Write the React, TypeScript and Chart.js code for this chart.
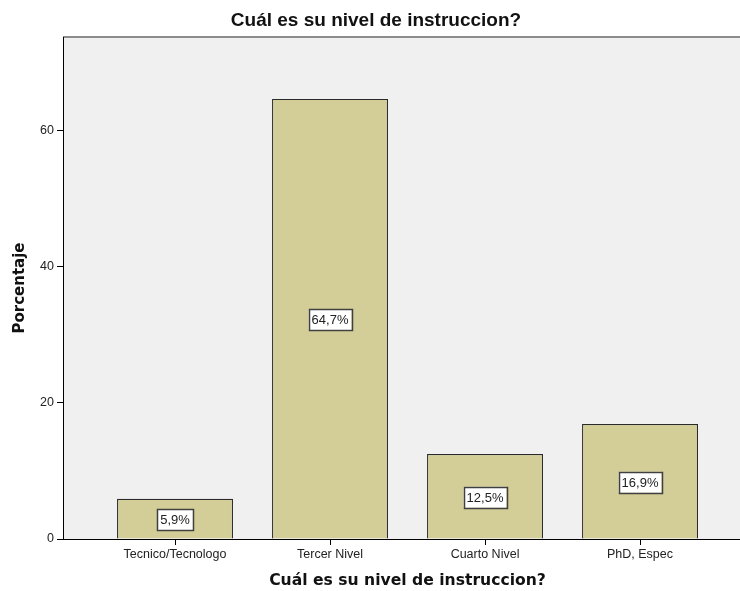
import React, { useEffect, useRef } from "react";
import { Chart, registerables } from "chart.js";

Chart.register(...registerables);

const chartTitle = "Cuál es su nivel de instruccion?";
const xAxisTitle = "Cuál es su nivel de instruccion?";
const yAxisTitle = "Porcentaje";
const categories = ["Tecnico/Tecnologo", "Tercer Nivel", "Cuarto Nivel", "PhD, Espec"];
const percentages = [5.9, 64.7, 12.5, 16.9];
const valueLabels = ["5,9%", "64,7%", "12,5%", "16,9%"];
const yTickValues = [0, 20, 40, 60];
const yMax = 73.8;
const xMin = -0.7226;
const xMax = 3.645;

const BAR_FILL = "#d3ce97";
const BAR_BORDER = "#2a2a2a";
const PLOT_BG = "#f0f0f0";

const backgroundPlugin = {
  id: "plotBackground",
  beforeDraw(chart: any) {
    const { ctx, chartArea } = chart;
    ctx.save();
    ctx.fillStyle = PLOT_BG;
    ctx.fillRect(chartArea.left, chartArea.top, chartArea.right - chartArea.left, chartArea.bottom - chartArea.top);
    ctx.strokeStyle = "#8c8c8c";
    ctx.lineWidth = 2;
    ctx.beginPath();
    ctx.moveTo(chartArea.left, chartArea.top);
    ctx.lineTo(chartArea.right, chartArea.top);
    ctx.stroke();
    ctx.restore();
  },
};

const valueLabelPlugin = {
  id: "valueLabels",
  afterDatasetsDraw(chart: any) {
    const { ctx } = chart;
    const meta = chart.getDatasetMeta(0);
    ctx.save();
    ctx.font = "13px Arial, 'Liberation Sans', sans-serif";
    ctx.textAlign = "center";
    ctx.textBaseline = "middle";
    meta.data.forEach((bar: any, i: number) => {
      const text = valueLabels[i];
      const cx = bar.x;
      const cy = (bar.y + bar.base) / 2 + 1;
      const w = ctx.measureText(text).width + 6;
      const h = 21;
      ctx.fillStyle = "#ffffff";
      ctx.fillRect(cx - w / 2, cy - h / 2, w, h);
      ctx.strokeStyle = "#404040";
      ctx.lineWidth = 1.5;
      ctx.strokeRect(Math.round(cx - w / 2) + 0.5, Math.round(cy - h / 2) + 0.5, Math.round(w), h);
      ctx.fillStyle = "#222222";
      ctx.fillText(text, cx, cy + 1);
    });
    ctx.restore();
  },
};

const titlesPlugin = {
  id: "titles",
  afterDraw(chart: any) {
    const { ctx, chartArea } = chart;
    ctx.save();
    ctx.fillStyle = "#111111";
    ctx.textAlign = "center";
    ctx.textBaseline = "alphabetic";
    ctx.font = "bold 19px Arial, 'Liberation Sans', sans-serif";
    ctx.fillText(chartTitle, 376, 26);

    const plotCenterX = (chartArea.left + 752) / 2;
    ctx.font = "bold 15.6px 'DejaVu Sans', Verdana, sans-serif";
    ctx.fillText(xAxisTitle, plotCenterX, 585);

    ctx.translate(24, (chartArea.top + chartArea.bottom) / 2);
    ctx.rotate(-Math.PI / 2);
    ctx.font = "bold 15px 'DejaVu Sans', Verdana, sans-serif";
    ctx.fillText(yAxisTitle, 0, 0);
    ctx.restore();
  },
};

export default function App() {
  const canvasRef = useRef<HTMLCanvasElement | null>(null);

  useEffect(() => {
    if (!canvasRef.current) return;
    const tickFont = { family: "Arial, 'Liberation Sans', sans-serif", size: 12.5 };
    const chart = new Chart(canvasRef.current, {
      type: "bar",
      data: {
        datasets: [
          {
            data: percentages.map((v, i) => ({ x: i, y: v })),
            backgroundColor: BAR_FILL,
            borderColor: BAR_BORDER,
            borderWidth: 1.2,
            categoryPercentage: 1,
            barPercentage: 0.748,
          },
        ],
      },
      options: {
        animation: false,
        responsive: false,
        devicePixelRatio: 1,
        layout: { padding: { top: 37, left: 0, right: 0, bottom: 0 } },
        plugins: {
          legend: { display: false },
          title: { display: false },
          tooltip: { enabled: false },
        },
        scales: {
          x: {
            type: "linear",
            offset: false,
            min: xMin,
            max: xMax,
            afterBuildTicks: (scale: any) => {
              scale.ticks = categories.map((_, i) => ({ value: i }));
            },
            afterFit: (scale: any) => {
              scale.height = 52;
            },
            ticks: {
              autoSkip: false,
              maxRotation: 0,
              padding: 2,
              color: "#222222",
              font: tickFont,
              callback: (value: any) => categories[value as number] ?? "",
            },
            grid: {
              offset: false,
              drawOnChartArea: false,
              drawTicks: true,
              tickLength: 6,
              color: "#000000",
              lineWidth: 1,
            },
            border: { display: true, color: "#000000", width: 1 },
          },
          y: {
            type: "linear",
            min: 0,
            max: yMax,
            afterBuildTicks: (scale: any) => {
              scale.ticks = yTickValues.map((v) => ({ value: v }));
            },
            afterFit: (scale: any) => {
              scale.width = 63;
            },
            ticks: { padding: 3, color: "#222222", font: tickFont },
            grid: { drawOnChartArea: false, drawTicks: true, tickLength: 6, color: "#000000", lineWidth: 1 },
            border: { display: true, color: "#000000", width: 1 },
          },
        },
      },
      plugins: [backgroundPlugin, valueLabelPlugin, titlesPlugin],
    } as any);
    return () => chart.destroy();
  }, []);

  return (
    <div style={{ position: "fixed", left: 0, top: 0, width: 740, height: 591, background: "#ffffff" }}>
      <canvas ref={canvasRef} width={740} height={591} style={{ display: "block" }} />
    </div>
  );
}
